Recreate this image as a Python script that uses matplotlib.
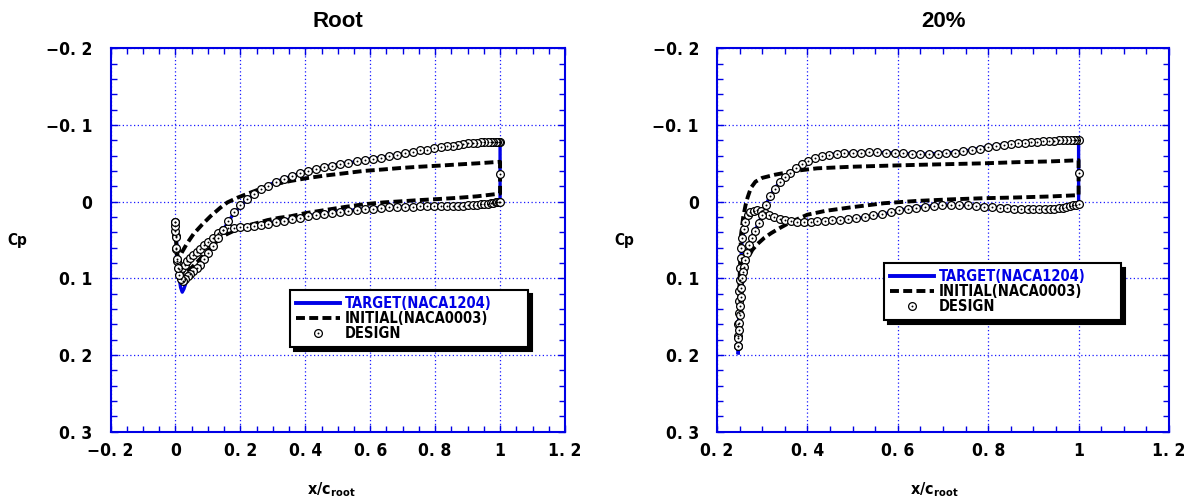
"""
翼面 Cp 分布の比較図（Root / 20% スパン）
TARGET / INITIAL / DESIGN の3系列を2パネルに描く
"""

import numpy as np
import matplotlib
matplotlib.use("Agg")
import matplotlib.pyplot as plt
from matplotlib.lines import Line2D
from matplotlib.ticker import MultipleLocator

# =====================================================================
# データ (x/c_root, Cp)  lo: 下面側 / up: 上面側
# =====================================================================
# ---- Root -------------------------------------------------------------
root_tgt_lo = [(0.000, 0.026), (0.004, 0.060), (0.010, 0.088), (0.015, 0.091), (0.021, 0.088),
               (0.035, 0.078), (0.048, 0.072), (0.064, 0.066), (0.079, 0.061), (0.095, 0.054),
               (0.110, 0.049), (0.126, 0.043), (0.141, 0.038), (0.157, 0.035), (0.180, 0.034),
               (0.220, 0.033), (0.260, 0.031), (0.300, 0.027), (0.350, 0.023), (0.400, 0.019),
               (0.450, 0.016), (0.500, 0.013), (0.590, 0.009), (0.680, 0.007), (0.750, 0.0062),
               (0.850, 0.006), (0.900, 0.005), (0.940, 0.0035), (0.970, 0.002), (1.000, 0.000)]
root_tgt_up = [(0.000, 0.026), (0.004, 0.060), (0.010, 0.095), (0.016, 0.112), (0.021, 0.118),
               (0.026, 0.114), (0.038, 0.099), (0.054, 0.090), (0.074, 0.083), (0.095, 0.071),
               (0.115, 0.058), (0.136, 0.044), (0.157, 0.030), (0.177, 0.017), (0.198, 0.007),
               (0.224, -0.004), (0.250, -0.012), (0.280, -0.020), (0.310, -0.026), (0.350, -0.032),
               (0.390, -0.038), (0.440, -0.043), (0.490, -0.048), (0.540, -0.051), (0.590, -0.055),
               (0.640, -0.058), (0.700, -0.062), (0.750, -0.066), (0.800, -0.070), (0.850, -0.073),
               (0.900, -0.076), (0.940, -0.077), (0.970, -0.0775), (1.000, -0.0775)]
root_ini_lo = [(0.000, 0.040), (0.005, 0.080), (0.012, 0.095), (0.020, 0.097), (0.030, 0.094),
               (0.045, 0.088), (0.062, 0.081), (0.080, 0.073), (0.100, 0.064), (0.120, 0.055),
               (0.140, 0.047), (0.160, 0.042), (0.180, 0.038), (0.214, 0.032), (0.250, 0.028),
               (0.284, 0.024), (0.320, 0.021), (0.355, 0.019), (0.400, 0.015), (0.460, 0.011),
               (0.520, 0.007), (0.578, 0.0035), (0.640, 0.001), (0.696, -0.0005), (0.750, -0.002),
               (0.813, -0.0035), (0.870, -0.005), (0.930, -0.007), (1.000, -0.0105)]
root_ini_up = [(0.000, 0.040), (0.004, 0.062), (0.008, 0.075), (0.013, 0.072), (0.020, 0.066),
               (0.035, 0.055), (0.056, 0.042), (0.082, 0.030), (0.108, 0.019), (0.138, 0.008),
               (0.160, 0.001), (0.190, -0.005), (0.226, -0.011), (0.270, -0.018), (0.310, -0.023),
               (0.355, -0.027), (0.410, -0.031), (0.460, -0.034), (0.520, -0.037), (0.578, -0.040),
               (0.640, -0.042), (0.696, -0.044), (0.750, -0.0455), (0.813, -0.047), (0.870, -0.0485),
               (0.930, -0.050), (1.000, -0.052)]
root_des_lo = [(0.000, 0.026), (0.001, 0.045), (0.003, 0.062), (0.006, 0.078), (0.010, 0.088),
               (0.015, 0.090), (0.021, 0.087), (0.028, 0.083), (0.036, 0.078), (0.045, 0.074),
               (0.055, 0.070), (0.065, 0.066), (0.076, 0.062), (0.088, 0.057), (0.101, 0.052),
               (0.115, 0.047), (0.130, 0.041), (0.146, 0.037), (0.163, 0.035), (0.181, 0.034),
               (0.200, 0.033), (0.220, 0.033), (0.241, 0.032), (0.263, 0.031), (0.286, 0.029),
               (0.310, 0.027), (0.334, 0.025), (0.358, 0.023), (0.383, 0.021), (0.408, 0.019),
               (0.433, 0.0175), (0.458, 0.016), (0.483, 0.0145), (0.508, 0.013), (0.533, 0.012),
               (0.558, 0.011), (0.583, 0.0098), (0.608, 0.009), (0.633, 0.008), (0.658, 0.0075),
               (0.683, 0.007), (0.707, 0.0068), (0.731, 0.0065), (0.754, 0.0062), (0.776, 0.006),
               (0.797, 0.006), (0.817, 0.006), (0.836, 0.006), (0.854, 0.006), (0.871, 0.0058),
               (0.887, 0.0055), (0.902, 0.005), (0.916, 0.0045), (0.929, 0.004), (0.941, 0.0035),
               (0.952, 0.003), (0.962, 0.0025), (0.971, 0.002), (0.979, 0.0015), (0.986, 0.001),
               (0.992, 0.0006), (0.997, 0.0003), (1.000, 0.000)]
root_des_up = [(0.000, 0.026), (0.000, 0.032), (0.000, 0.038), (0.001, 0.046), (0.003, 0.060),
               (0.005, 0.075), (0.008, 0.087), (0.012, 0.095), (0.017, 0.101), (0.023, 0.104),
               (0.030, 0.101), (0.038, 0.097), (0.046, 0.094), (0.055, 0.090), (0.065, 0.086),
               (0.076, 0.082), (0.088, 0.075), (0.101, 0.067), (0.115, 0.058), (0.130, 0.048),
               (0.146, 0.037), (0.163, 0.025), (0.181, 0.014), (0.200, 0.005), (0.220, -0.003),
               (0.241, -0.010), (0.263, -0.016), (0.286, -0.021), (0.310, -0.026), (0.334, -0.030),
               (0.358, -0.034), (0.383, -0.037), (0.408, -0.040), (0.433, -0.043), (0.458, -0.045),
               (0.483, -0.047), (0.508, -0.049), (0.533, -0.051), (0.558, -0.053), (0.583, -0.054),
               (0.608, -0.056), (0.633, -0.057), (0.658, -0.059), (0.683, -0.061), (0.707, -0.063),
               (0.731, -0.065), (0.754, -0.067), (0.776, -0.068), (0.797, -0.070), (0.817, -0.071),
               (0.836, -0.072), (0.854, -0.073), (0.871, -0.074), (0.887, -0.075), (0.902, -0.076),
               (0.916, -0.0765), (0.929, -0.077), (0.941, -0.0772), (0.952, -0.0774), (0.962, -0.0775),
               (0.971, -0.0775), (0.979, -0.0775), (0.986, -0.0775), (0.992, -0.0775), (0.997, -0.0775),
               (1.000, -0.0775)]
root_des_te = (1.000, -0.036)

# ---- 20% スパン ---------------------------------------------------------
tip_tgt_lo = [(0.247, 0.197), (0.2475, 0.170), (0.248, 0.154), (0.249, 0.135), (0.250, 0.124),
              (0.2515, 0.098), (0.253, 0.076), (0.255, 0.055), (0.259, 0.038), (0.264, 0.025),
              (0.270, 0.016), (0.280, 0.0125), (0.295, 0.012), (0.306, 0.015), (0.320, 0.019),
              (0.341, 0.0225), (0.363, 0.025), (0.386, 0.026), (0.422, 0.0255), (0.459, 0.0245),
              (0.496, 0.0225), (0.533, 0.020), (0.570, 0.016), (0.606, 0.011), (0.643, 0.0074),
              (0.680, 0.0052), (0.717, 0.0043), (0.754, 0.0052), (0.790, 0.0065), (0.827, 0.0082),
              (0.864, 0.0095), (0.900, 0.010), (0.938, 0.009), (0.975, 0.0065), (1.000, 0.003)]
tip_tgt_up = [(0.247, 0.197), (0.249, 0.170), (0.2515, 0.140), (0.2545, 0.115), (0.259, 0.089),
              (0.264, 0.072), (0.270, 0.059), (0.277, 0.046), (0.288, 0.033), (0.298, 0.020),
              (0.309, 0.003), (0.320, -0.010), (0.335, -0.023), (0.356, -0.034), (0.378, -0.0446),
              (0.400, -0.053), (0.422, -0.058), (0.459, -0.062), (0.511, -0.064), (0.570, -0.064),
              (0.606, -0.063), (0.650, -0.062), (0.695, -0.063), (0.739, -0.065), (0.790, -0.0706),
              (0.842, -0.075), (0.900, -0.078), (0.945, -0.080), (0.975, -0.0805), (1.000, -0.0805)]
tip_ini_lo = [(0.248, 0.170), (0.250, 0.150), (0.252, 0.125), (0.255, 0.105), (0.260, 0.088),
              (0.268, 0.074), (0.278, 0.063), (0.290, 0.055), (0.305, 0.047), (0.320, 0.041),
              (0.340, 0.034), (0.365, 0.026), (0.400, 0.017), (0.440, 0.012), (0.496, 0.0074),
              (0.570, 0.002), (0.643, -0.001), (0.717, -0.003), (0.790, -0.0045), (0.864, -0.0055),
              (0.938, -0.0068), (1.000, -0.0085)]
tip_ini_up = [(0.248, 0.170), (0.249, 0.130), (0.2505, 0.090), (0.252, 0.065), (0.253, 0.044),
              (0.258, 0.020), (0.263, 0.005), (0.268, -0.006), (0.275, -0.018), (0.285, -0.026),
              (0.300, -0.031), (0.327, -0.035), (0.371, -0.040), (0.422, -0.0435), (0.496, -0.0455),
              (0.570, -0.0468), (0.643, -0.048), (0.717, -0.049), (0.790, -0.050), (0.864, -0.0515),
              (0.938, -0.0525), (1.000, -0.054)]
tip_des_lo = [(0.247, 0.188), (0.247, 0.175), (0.2475, 0.160), (0.248, 0.145), (0.2485, 0.130),
              (0.249, 0.116), (0.250, 0.102), (0.251, 0.087), (0.2525, 0.073), (0.254, 0.060),
              (0.256, 0.048), (0.259, 0.036), (0.263, 0.026), (0.268, 0.018), (0.274, 0.0135),
              (0.281, 0.012), (0.289, 0.0115), (0.297, 0.012), (0.306, 0.0145), (0.316, 0.018),
              (0.327, 0.0205), (0.339, 0.0225), (0.351, 0.024), (0.364, 0.025), (0.378, 0.026),
              (0.392, 0.026), (0.407, 0.026), (0.422, 0.0255), (0.438, 0.025), (0.455, 0.0245),
              (0.472, 0.0235), (0.490, 0.0225), (0.508, 0.021), (0.527, 0.0195), (0.546, 0.018),
              (0.565, 0.016), (0.584, 0.014), (0.603, 0.0115), (0.622, 0.0095), (0.641, 0.008),
              (0.660, 0.0065), (0.679, 0.0055), (0.698, 0.0048), (0.717, 0.0043), (0.736, 0.0045),
              (0.755, 0.005), (0.773, 0.0058), (0.791, 0.0065), (0.809, 0.0074), (0.826, 0.0082),
              (0.842, 0.0088), (0.858, 0.0093), (0.873, 0.0097), (0.887, 0.010), (0.900, 0.010),
              (0.913, 0.010), (0.925, 0.0097), (0.936, 0.0093), (0.946, 0.009), (0.956, 0.0085),
              (0.965, 0.008), (0.973, 0.007), (0.981, 0.006), (0.988, 0.005), (0.994, 0.004),
              (1.000, 0.003)]
tip_des_up = [(0.247, 0.188), (0.2475, 0.178), (0.248, 0.168), (0.249, 0.158), (0.250, 0.148),
              (0.251, 0.136), (0.2525, 0.124), (0.254, 0.112), (0.2555, 0.100), (0.257, 0.092),
              (0.259, 0.085), (0.262, 0.076), (0.266, 0.067), (0.271, 0.057), (0.277, 0.047),
              (0.284, 0.038), (0.292, 0.028), (0.300, 0.018), (0.309, 0.005), (0.318, -0.007),
              (0.328, -0.017), (0.339, -0.026), (0.350, -0.032), (0.362, -0.038), (0.375, -0.044),
              (0.388, -0.049), (0.402, -0.053), (0.417, -0.057), (0.432, -0.059), (0.448, -0.061),
              (0.465, -0.0625), (0.482, -0.0635), (0.500, -0.064), (0.518, -0.064), (0.536, -0.0642),
              (0.555, -0.0642), (0.574, -0.064), (0.593, -0.0635), (0.612, -0.063), (0.631, -0.0625),
              (0.650, -0.062), (0.669, -0.062), (0.688, -0.0625), (0.707, -0.063), (0.726, -0.064),
              (0.745, -0.0655), (0.764, -0.067), (0.782, -0.069), (0.800, -0.071), (0.817, -0.072),
              (0.834, -0.074), (0.850, -0.075), (0.866, -0.076), (0.881, -0.077), (0.895, -0.0775),
              (0.909, -0.078), (0.922, -0.0785), (0.934, -0.079), (0.945, -0.0795), (0.956, -0.080),
              (0.966, -0.080), (0.975, -0.0805), (0.983, -0.0805), (0.990, -0.0805), (0.995, -0.0805),
              (1.000, -0.0805)]
tip_des_te = (1.000, -0.037)

# ---- 軸目盛・凡例ラベル -------------------------------------------------
root_xticks = [-0.2, 0.0, 0.2, 0.4, 0.6, 0.8, 1.0, 1.2]
root_xlabels = ["−0. 2", "0", "0. 2", "0. 4", "0. 6", "0. 8", "1", "1. 2"]
tip_xticks = [0.2, 0.4, 0.6, 0.8, 1.0, 1.2]
tip_xlabels = ["0. 2", "0. 4", "0. 6", "0. 8", "1", "1. 2"]
cp_ticks = [-0.2, -0.1, 0.0, 0.1, 0.2, 0.3]
cp_labels = ["−0. 2", "−0. 1", "0", "0. 1", "0. 2", "0. 3"]
legend_labels = ["TARGET(NACA1204)", "INITIAL(NACA0003)", "DESIGN"]

# =====================================================================
# 体裁
# =====================================================================
NARROW = ["DejaVu Sans"]
BLUE = "#0000e6"
GRID_BLUE = "#1a1aff"
W, H = 1187, 503

plt.rcParams["font.family"] = NARROW
plt.rcParams["font.weight"] = "bold"
plt.rcParams["font.stretch"] = "condensed"
plt.rcParams["axes.labelweight"] = "bold"
plt.rcParams["mathtext.fontset"] = "custom"
plt.rcParams["mathtext.rm"] = "DejaVu Sans:bold"

TGT_STYLE = dict(color=BLUE, lw=2.4)
INI_STYLE = dict(color="black", lw=2.8, dashes=(2.3, 1.1))
DES_RING = dict(ls="none", marker="o", ms=5.6, mfc="white", mec="black", mew=0.9)
DES_DOT = dict(ls="none", marker="o", ms=1.4, mfc="black", mec="black", mew=0)


def closed(lo, up):
    """下面(LE→TE) + 上面(TE→LE) をつないで1本の閉曲線にする"""
    return np.vstack([np.asarray(lo), np.asarray(up)[::-1]])


def draw_panel(ax, title, xlim, xticks, xlabels, tgt, ini, des, legend_box, xlab_x):
    t = closed(*tgt)
    ax.plot(t[:, 0], t[:, 1], zorder=3, **TGT_STYLE)
    i = closed(*ini)
    ax.plot(i[:, 0], i[:, 1], zorder=4, **INI_STYLE)
    d_lo, d_up, d_te = des
    d = np.vstack([np.asarray(d_lo), [d_te], np.asarray(d_up)[::-1]])
    ax.plot(d[:, 0], d[:, 1], zorder=5, **DES_RING)
    ax.plot(d[:, 0], d[:, 1], zorder=6, **DES_DOT)

    ax.set_xlim(*xlim)
    ax.set_ylim(0.3, -0.2)
    ax.set_xticks(xticks, xlabels)
    ax.set_yticks(cp_ticks, cp_labels)
    ax.xaxis.set_minor_locator(MultipleLocator(0.05))
    ax.yaxis.set_minor_locator(MultipleLocator(0.02))
    ax.tick_params(which="both", direction="in", top=True, right=True,
                   color=BLUE, width=1.0, labelsize=12.5)
    ax.tick_params(which="major", length=5)
    ax.tick_params(which="minor", length=4)
    ax.tick_params(axis="x", pad=7.5)
    ax.tick_params(axis="y", pad=13)
    ax.grid(which="major", color=GRID_BLUE, ls=(0, (1, 2)), lw=0.9)
    for sp in ax.spines.values():
        sp.set_color(BLUE)
        sp.set_linewidth(1.5)

    ax.text(0.5, 1.071, title, transform=ax.transAxes, ha="center", va="center",
            fontsize=16, fontweight="bold", fontstretch="normal",
            family=["Liberation Sans", "DejaVu Sans"])
    ax.set_ylabel("Cp", rotation=0, fontsize=11, fontweight="bold",
                  ha="center", va="center")
    ax.yaxis.set_label_coords(-0.206, 0.5)
    ax.set_xlabel(r"x/c$_{\mathrm{root}}$", fontsize=11.5, fontweight="bold", va="center")
    ax.xaxis.set_label_coords(xlab_x, -0.152)

    # 凡例（影付きの四角枠）
    h_t = Line2D([], [], **{**TGT_STYLE, "lw": 2.8})
    h_i = Line2D([], [], **INI_STYLE)
    h_d = (Line2D([], [], **DES_RING), Line2D([], [], **DES_DOT))
    leg = ax.legend([h_t, h_i, h_d], legend_labels, loc="upper left",
                    bbox_to_anchor=legend_box, mode="expand", borderaxespad=0,
                    numpoints=1, handlelength=3.0, handletextpad=0.35,
                    labelspacing=0.0, borderpad=0.4, fancybox=False,
                    framealpha=1, edgecolor="black",
                    shadow={"facecolor": "black", "edgecolor": "black", "alpha": 1,
                            "ox": 3, "oy": -3},
                    prop={"family": NARROW, "weight": "bold", "stretch": "condensed",
                          "size": 10.5})
    leg.get_frame().set_linewidth(1.5)
    leg.get_texts()[0].set_color(BLUE)
    leg.set_zorder(10)


def main():
    fig = plt.figure(figsize=(W / 100, H / 100), dpi=100)
    bottom = 1 - 431.7 / H
    height = 383.4 / H
    ax1 = fig.add_axes([110.5 / W, bottom, 454.5 / W, height])
    ax2 = fig.add_axes([717 / W, bottom, 452 / W, height])

    draw_panel(ax1, "Root", (-0.2, 1.2), root_xticks, root_xlabels,
               (root_tgt_lo, root_tgt_up), (root_ini_lo, root_ini_up),
               (root_des_lo, root_des_up, root_des_te),
               (0.395, 0.213, 0.524, 0.157), 0.485)
    draw_panel(ax2, "20%", (0.2, 1.2), tip_xticks, tip_xlabels,
               (tip_tgt_lo, tip_tgt_up), (tip_ini_lo, tip_ini_up),
               (tip_des_lo, tip_des_up, tip_des_te),
               (0.370, 0.285, 0.523, 0.154), 0.48)

    fig.savefig("out.png", dpi=100)


if __name__ == "__main__":
    main()
